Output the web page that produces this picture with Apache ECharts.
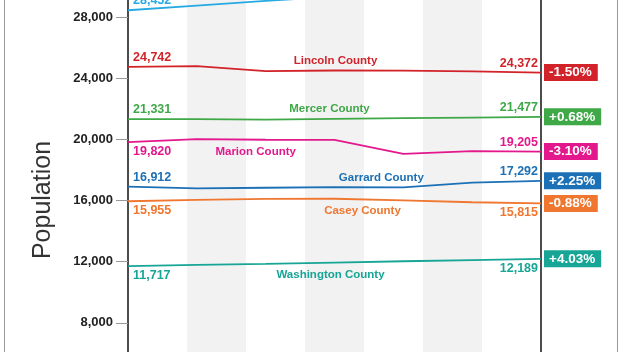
<!DOCTYPE html>
<html>
<head>
<meta charset="utf-8">
<script src="https://cdn.jsdelivr.net/npm/echarts@6/dist/echarts.min.js"></script>
<style>
  html, body { margin: 0; padding: 0; background: #fff; }
  #chart { width: 622px; height: 352px; }
</style>
</head>
<body>
<div id="chart"></div>
<script>
// years on the x axis (the bottom of the chart is cropped off)
let years = ["2010", "2011", "2012", "2013", "2014", "2015", "2016"];
let yTicks = [4000, 32000, 4000]; // min, max, step

// population per county
let boyle = [28452, 28760, 29060, 29350, 29600, 29800, 29950];
let lincoln = [24742, 24790, 24470, 24510, 24500, 24450, 24372];
let mercer = [21331, 21330, 21300, 21350, 21390, 21430, 21477];
let marion = [19820, 20020, 19980, 19970, 19060, 19230, 19205];
let garrard = [16912, 16800, 16840, 16880, 16860, 17180, 17292];
let casey = [15955, 16040, 16110, 16120, 16010, 15890, 15815];
let washington = [11717, 11790, 11860, 11940, 12030, 12110, 12189];

let counties = [
  { name: "Boyle County", data: boyle, color: "#27a9e1", start: "top", end: "top", nameIdx: -1, dx: 0, namePos: "top" },
  { name: "Lincoln County", data: lincoln, color: "#d2232a", start: "top", end: "top", nameIdx: 3, dx: 1, namePos: "top" },
  { name: "Mercer County", data: mercer, color: "#3fa847", start: "top", end: "top", nameIdx: 3, dx: -5, namePos: "top" },
  { name: "Marion County", data: marion, color: "#e2188c", start: "bottom", end: "top", nameIdx: 2, dx: -10, namePos: "bottom" },
  { name: "Garrard County", data: garrard, color: "#1c70b6", start: "top", end: "top", nameIdx: 4, dx: -22, namePos: "top" },
  { name: "Casey County", data: casey, color: "#ef7730", start: "bottom", end: "bottom", nameIdx: 3, dx: 28, namePos: "bottom" },
  { name: "Washington County", data: washington, color: "#17a596", start: "bottom", end: "bottom", nameIdx: 3, dx: -4, namePos: "bottom" },
];

let font = "'Liberation Sans', Arial, sans-serif";

function fmt(v) {
  return v.toLocaleString("en-US");
}

function pct(arr) {
  let p = ((arr[arr.length - 1] - arr[0]) / arr[0]) * 100;
  return (p > 0 ? "+" : "") + p.toFixed(2) + "%";
}

function buildSeries(c) {
  let last = c.data.length - 1;
  let points = c.data.map(function (v, i) {
    let lab = null;
    if (i == 0) {
      lab = { show: true, position: c.start, align: "left", offset: [5, 0], formatter: fmt(v) };
    } else if (i == last) {
      lab = { show: true, position: c.end, align: "right", offset: [-3, 0], formatter: fmt(v) };
    } else if (i == c.nameIdx) {
      lab = {
        show: true,
        position: c.namePos,
        distance: c.namePos == "bottom" ? 6 : 4,
        offset: [c.dx, 0],
        formatter: c.name,
        fontSize: 11.5,
      };
    }
    return lab ? { value: v, label: lab } : { value: v };
  });
  return {
    name: c.name,
    type: "line",
    xAxisIndex: 0,
    data: points,
    symbol: "circle",
    symbolSize: 0,
    showSymbol: true,
    lineStyle: { color: c.color, width: 1.8 },
    itemStyle: { color: c.color },
    label: {
      show: false,
      color: c.color,
      fontFamily: font,
      fontWeight: "bold",
      fontSize: 12.5,
      distance: 3,
    },
    endLabel: {
      show: true,
      formatter: pct(c.data),
      distance: 3,
      color: "#fff",
      backgroundColor: c.color,
      fontFamily: font,
      fontWeight: "bold",
      fontSize: 13.5,
      padding: [2, 6, 1, 5],
    },
    emphasis: { disabled: true },
    z: 3,
  };
}

let myChart = echarts.init(document.getElementById("chart"));

let option = {
  animation: false,
  backgroundColor: "#fff",
  grid: { left: 128, right: 81, top: -44, bottom: -32, outerBoundsMode: "none", containLabel: false },
  xAxis: [
    {
      type: "category",
      data: years,
      boundaryGap: false,
      axisLine: { show: false },
      axisTick: { show: false },
      axisLabel: { show: false },
    },
    {
      type: "category",
      data: years,
      boundaryGap: true,
      axisLine: { show: false },
      axisTick: { show: false },
      axisLabel: { show: false },
      splitLine: { show: false },
      splitArea: { show: true, areaStyle: { color: ["#ffffff", "#f2f2f2"] } },
    },
  ],
  yAxis: [
    {
      type: "value",
      min: yTicks[0],
      max: yTicks[1],
      interval: yTicks[2],
      axisLine: { show: true, lineStyle: { color: "#111", width: 1.5 } },
      axisTick: { show: true, length: 12, lineStyle: { color: "#999" } },
      splitLine: { show: false },
      axisLabel: {
        margin: 15,
        color: "#222",
        fontFamily: font,
        fontWeight: "bold",
        fontSize: 13,
        formatter: function (v) {
          return fmt(v);
        },
      },
    },
    {
      type: "value",
      position: "right",
      min: yTicks[0],
      max: yTicks[1],
      interval: yTicks[2],
      axisLine: { show: true, lineStyle: { color: "#111", width: 1.5 } },
      axisTick: { show: false },
      axisLabel: { show: false },
      splitLine: { show: false },
    },
  ],
  graphic: [
    { type: "line", shape: { x1: 4.5, y1: 0, x2: 4.5, y2: 352 }, style: { stroke: "#999", lineWidth: 1 } },
    { type: "line", shape: { x1: 617.5, y1: 0, x2: 617.5, y2: 352 }, style: { stroke: "#999", lineWidth: 1 } },
    {
      type: "text",
      x: 43,
      y: 200,
      rotation: Math.PI / 2,
      style: {
        text: "Population",
        fill: "#333",
        font: "25px 'Liberation Sans', sans-serif",
        textAlign: "center",
        textVerticalAlign: "middle",
      },
    },
  ],
  series: counties.map(buildSeries),
};

myChart.setOption(option);

window.onresize = function () {
  myChart.resize();
};
</script>
</body>
</html>
